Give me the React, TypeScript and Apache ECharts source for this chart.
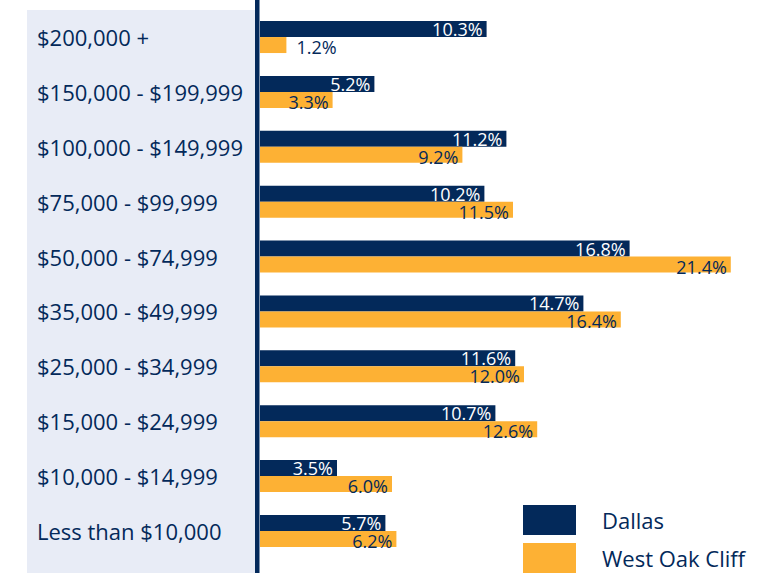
import React, { useEffect, useRef } from "react";
import * as echarts from "echarts";

const categories = [
  "$200,000 +",
  "$150,000 - $199,999",
  "$100,000 - $149,999",
  "$75,000 - $99,999",
  "$50,000 - $74,999",
  "$35,000 - $49,999",
  "$25,000 - $34,999",
  "$15,000 - $24,999",
  "$10,000 - $14,999",
  "Less than $10,000",
];
const dallas = [10.3, 5.2, 11.2, 10.2, 16.8, 14.7, 11.6, 10.7, 3.5, 5.7];
const westOakCliff = [1.2, 3.3, 9.2, 11.5, 21.4, 16.4, 12.0, 12.6, 6.0, 6.2];

const NAVY = "#03295a";
const ORANGE = "#fdb134";
const PANEL = "#e8ecf6";
const FONT = "'Open Sans', 'Noto Sans', sans-serif";

export default function App() {
  const ref = useRef<HTMLDivElement>(null);
  useEffect(() => {
    if (!ref.current) return;
    const chart = echarts.init(ref.current, undefined, { renderer: "svg" });
    const fmt = (p: any) => Number(p.value).toFixed(1) + "%";
    const legendBase = {
      orient: "vertical",
      left: 523,
      padding: 0,
      itemWidth: 53,
      itemHeight: 30,
      icon: "rect",
      textStyle: {
        fontSize: 22,
        color: NAVY,
        fontFamily: FONT,
        padding: [0, 0, 0, 21],
      },
    };
    chart.setOption({
      animation: false,
      backgroundColor: "#ffffff",
      textStyle: { fontFamily: FONT },
      graphic: [
        {
          type: "rect",
          z: -10,
          shape: { x: 27, y: 10, width: 228, height: 563 },
          style: { fill: PANEL },
        },
        {
          type: "rect",
          z: 10,
          shape: { x: 255, y: 0, width: 4.5, height: 573 },
          style: { fill: NAVY },
        },
      ],
      grid: { left: 260, right: 8, top: 9.6, bottom: 14.6, containLabel: false },
      xAxis: {
        type: "value",
        min: 0,
        max: 23,
        show: false,
        splitLine: { show: false },
      },
      yAxis: {
        type: "category",
        data: categories,
        inverse: true,
        axisLine: { show: false },
        axisTick: { show: false },
        axisLabel: {
          align: "left",
          margin: 223,
          fontSize: 22,
          color: NAVY,
          fontFamily: FONT,
        },
      },
      legend: [
        { ...legendBase, top: 505, data: ["Dallas"] },
        { ...legendBase, top: 543, data: ["West Oak Cliff"] },
      ],
      series: [
        {
          name: "Dallas",
          type: "bar",
          data: dallas,
          barWidth: 16,
          barGap: "0%",
          itemStyle: { color: NAVY },
          label: {
            show: true,
            position: "insideRight",
            distance: 4,
            offset: [0, 0],
            color: "#ffffff",
            fontSize: 18,
            fontFamily: FONT,
            formatter: fmt,
          },
        },
        {
          name: "West Oak Cliff",
          type: "bar",
          data: westOakCliff.map((v) =>
            v < 2
              ? { value: v, label: { position: "right", distance: 10 } }
              : { value: v }
          ),
          barWidth: 16,
          barGap: "0%",
          itemStyle: { color: ORANGE },
          label: {
            show: true,
            position: "insideRight",
            distance: 4,
            offset: [0, 2],
            color: NAVY,
            fontSize: 18,
            fontFamily: FONT,
            formatter: fmt,
          },
        },
      ],
    });
    return () => chart.dispose();
  }, []);
  return (
    <div
      ref={ref}
      style={{ position: "fixed", left: 0, top: 0, width: 774, height: 573 }}
    />
  );
}
